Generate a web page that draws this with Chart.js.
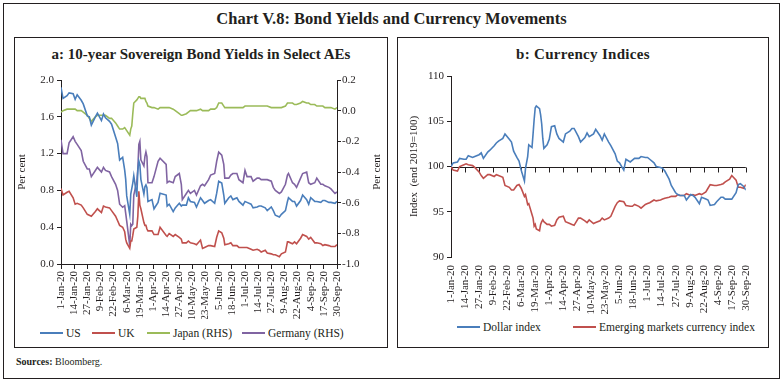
<!DOCTYPE html>
<html><head><meta charset="utf-8">
<script src="https://cdn.jsdelivr.net/npm/chart.js@4.4.1/dist/chart.umd.min.js"></script>
<style>
html,body{margin:0;padding:0;background:#fff;}
#frame{position:relative;width:783px;height:383px;font-family:"Liberation Serif",serif;color:#231f20;overflow:hidden;}
#outer{position:absolute;left:3px;top:3px;width:777px;height:376px;border:1px solid #231f20;box-sizing:border-box;}
.main-title{position:absolute;left:0;top:10px;width:783px;text-align:center;font-weight:bold;font-size:16.5px;line-height:18px;}
.panel{position:absolute;top:37px;height:311px;border:1px solid #231f20;box-sizing:border-box;}
#pa{left:14px;width:374px;}
#pb{left:397px;width:372px;}
.ptitle{position:absolute;left:0;top:8px;width:100%;text-align:center;font-weight:bold;font-size:15px;line-height:17px;}
#pb .ptitle{letter-spacing:0.3px;}
.cw{position:absolute;}
#cwa{left:16px;top:62px;width:370px;height:257px;}
#cwb{left:399px;top:62px;width:368px;height:255px;}
#src{position:absolute;left:16px;top:356px;font-size:10px;line-height:12px;}
.legend{position:absolute;height:14px;font-size:11.5px;line-height:14px;white-space:nowrap;}
.legend .item{position:absolute;top:0;}
.legend .sw{display:inline-block;width:23px;height:2px;vertical-align:middle;margin-right:3px;position:relative;top:-1px;}
</style>
</head><body>
<div id="frame">
  <div id="outer"></div>
  <div class="main-title">Chart V.8: Bond Yields and Currency Movements</div>
  <div class="panel" id="pa"><div class="ptitle">a: 10-year Sovereign Bond Yields in Select AEs</div></div>
  <div class="panel" id="pb"><div class="ptitle">b: Currency Indices</div></div>
  <div class="cw" id="cwa"><canvas id="ca"></canvas></div>
  <div class="cw" id="cwb"><canvas id="cb"></canvas></div>
  <div class="legend" id="lga" style="left:0;top:326px;width:783px;"></div>
  <div class="legend" id="lgb" style="left:0;top:320px;width:783px;"></div>
  <div id="src"><b>Sources:</b> Bloomberg.</div>
</div>
<script>
// ---------- DATA ----------
const tickLabels = ['1-Jan-20','14-Jan-20','27-Jan-20','9-Feb-20','22-Feb-20','6-Mar-20','19-Mar-20','1-Apr-20','14-Apr-20','27-Apr-20','10-May-20','23-May-20','5-Jun-20','18-Jun-20','1-Jul-20','14-Jul-20','27-Jul-20','9-Aug-20','22-Aug-20','4-Sep-20','17-Sep-20','30-Sep-20'];

const yieldTicksLHS = [0.0, 0.4, 0.8, 1.2, 1.6, 2.0];
const yieldTicksRHS = [-1.0, -0.9, -0.8, -0.7, -0.6, -0.5, -0.4, -0.3, -0.2, -0.1, 0.0, 0.1, 0.2];
const indexTicks = [90, 95, 100, 105, 110];

const seriesNamesA = ['US', 'UK', 'Japan (RHS)', 'Germany (RHS)'];
const seriesNamesB = ['Dollar index', 'Emerging markets currency index'];

const datesA = ['1-Jan','3-Jan','7-Jan','9-Jan','13-Jan','15-Jan','17-Jan','21-Jan','23-Jan','27-Jan','29-Jan','31-Jan',
'4-Feb','6-Feb','10-Feb','12-Feb','14-Feb','18-Feb','20-Feb','24-Feb','26-Feb','28-Feb',
'2-Mar','4-Mar','5-Mar','6-Mar','9-Mar','10-Mar','11-Mar','12-Mar','13-Mar','16-Mar','17-Mar','18-Mar','19-Mar','20-Mar','23-Mar','24-Mar','25-Mar','26-Mar','27-Mar','31-Mar',
'2-Apr','6-Apr','8-Apr','14-Apr','15-Apr','17-Apr','21-Apr','23-Apr','27-Apr','29-Apr','30-Apr',
'4-May','6-May','8-May','12-May','14-May','18-May','20-May','22-May','26-May','28-May',
'1-Jun','3-Jun','5-Jun','8-Jun','10-Jun','11-Jun','15-Jun','17-Jun','19-Jun','23-Jun','25-Jun','29-Jun',
'1-Jul','3-Jul','7-Jul','9-Jul','13-Jul','15-Jul','17-Jul','21-Jul','23-Jul','27-Jul','29-Jul','31-Jul',
'4-Aug','6-Aug','10-Aug','12-Aug','13-Aug','17-Aug','19-Aug','21-Aug','25-Aug','27-Aug','31-Aug',
'2-Sep','4-Sep','8-Sep','10-Sep','14-Sep','16-Sep','18-Sep','22-Sep','24-Sep','28-Sep','30-Sep'];

const usYield = [1.92,1.80,1.83,1.86,1.85,1.79,1.84,1.78,1.74,1.61,1.60,1.51,
1.60,1.64,1.56,1.63,1.59,1.55,1.52,1.38,1.31,1.13,
1.16,1.02,0.92,0.74,0.54,0.76,0.82,0.88,0.96,0.73,1.02,1.12,1.08,0.92,0.76,0.84,0.86,0.83,0.68,0.70,
0.60,0.67,0.77,0.75,0.63,0.65,0.57,0.61,0.66,0.63,0.64,
0.64,0.72,0.68,0.67,0.62,0.72,0.69,0.66,0.69,0.70,
0.66,0.77,0.90,0.88,0.75,0.66,0.72,0.74,0.70,0.72,0.68,0.64,
0.68,0.67,0.65,0.61,0.62,0.63,0.63,0.61,0.58,0.62,0.58,0.53,
0.51,0.54,0.58,0.68,0.72,0.68,0.68,0.63,0.69,0.75,0.70,
0.65,0.72,0.68,0.68,0.67,0.69,0.69,0.67,0.67,0.66,0.68];

const ukYield = [0.82,0.75,0.78,0.79,0.72,0.65,0.66,0.64,0.61,0.54,0.53,0.52,
0.57,0.60,0.56,0.63,0.62,0.61,0.58,0.52,0.47,0.42,
0.40,0.35,0.27,0.23,0.17,0.25,0.25,0.31,0.38,0.40,0.52,0.79,0.64,0.60,0.45,0.42,0.42,0.38,0.36,0.36,
0.32,0.32,0.40,0.31,0.30,0.33,0.30,0.32,0.29,0.27,0.23,
0.23,0.25,0.23,0.22,0.21,0.26,0.17,0.18,0.20,0.20,
0.19,0.29,0.36,0.34,0.28,0.21,0.22,0.23,0.20,0.20,0.18,0.18,
0.18,0.18,0.16,0.15,0.16,0.15,0.13,0.15,0.12,0.11,0.10,0.10,
0.08,0.11,0.13,0.24,0.24,0.22,0.24,0.22,0.28,0.32,0.30,
0.27,0.29,0.23,0.23,0.22,0.20,0.21,0.20,0.19,0.19,0.21];

const japanYield = [-0.01,0.00,0.01,0.01,0.01,0.01,0.00,0.00,-0.01,-0.03,-0.05,-0.07,
-0.04,-0.03,-0.03,-0.03,-0.03,-0.05,-0.05,-0.08,-0.10,-0.12,
-0.12,-0.11,-0.12,-0.13,-0.16,-0.12,-0.10,-0.02,0.05,0.07,0.08,0.09,0.09,0.08,0.08,0.08,0.06,0.05,0.03,0.02,
0.02,0.01,0.02,0.02,0.02,0.02,0.01,0.00,-0.02,-0.03,-0.03,
-0.02,-0.01,0.00,0.00,0.00,0.01,0.00,0.00,0.00,0.01,
0.01,0.02,0.05,0.05,0.03,0.02,0.02,0.02,0.02,0.02,0.02,0.02,
0.03,0.03,0.03,0.03,0.03,0.03,0.03,0.03,0.03,0.02,0.02,0.02,
0.02,0.02,0.03,0.05,0.05,0.05,0.04,0.04,0.05,0.06,0.05,
0.05,0.04,0.04,0.03,0.03,0.03,0.02,0.02,0.02,0.01,0.02];

const germanyYield = [-0.19,-0.28,-0.28,-0.21,-0.17,-0.20,-0.22,-0.26,-0.33,-0.38,-0.38,-0.43,
-0.39,-0.37,-0.40,-0.37,-0.39,-0.40,-0.43,-0.48,-0.52,-0.61,
-0.63,-0.62,-0.67,-0.72,-0.88,-0.74,-0.75,-0.74,-0.55,-0.46,-0.38,-0.22,-0.20,-0.32,-0.36,-0.30,-0.27,-0.30,-0.47,-0.47,
-0.43,-0.33,-0.31,-0.35,-0.47,-0.46,-0.47,-0.43,-0.41,-0.48,-0.58,
-0.54,-0.52,-0.54,-0.52,-0.55,-0.49,-0.48,-0.49,-0.45,-0.42,
-0.41,-0.33,-0.27,-0.29,-0.35,-0.44,-0.44,-0.42,-0.41,-0.41,-0.45,-0.47,
-0.39,-0.43,-0.43,-0.46,-0.44,-0.44,-0.45,-0.45,-0.45,-0.46,-0.50,-0.52,
-0.54,-0.53,-0.48,-0.42,-0.41,-0.47,-0.48,-0.50,-0.44,-0.41,-0.40,
-0.47,-0.48,-0.47,-0.44,-0.48,-0.48,-0.49,-0.50,-0.51,-0.54,-0.53];

const datesB = ['1-Jan','3-Jan','7-Jan','9-Jan','13-Jan','15-Jan','17-Jan','21-Jan','23-Jan','27-Jan','29-Jan','31-Jan',
'4-Feb','6-Feb','10-Feb','12-Feb','14-Feb','18-Feb','20-Feb','24-Feb','26-Feb','28-Feb',
'2-Mar','4-Mar','6-Mar','9-Mar','10-Mar','12-Mar','13-Mar','16-Mar','17-Mar','18-Mar','19-Mar','20-Mar','23-Mar','24-Mar','25-Mar','26-Mar','27-Mar','30-Mar',
'1-Apr','3-Apr','6-Apr','8-Apr','10-Apr','14-Apr','16-Apr','20-Apr','22-Apr','24-Apr','28-Apr','30-Apr',
'4-May','6-May','8-May','12-May','14-May','18-May','20-May','22-May','26-May','28-May',
'1-Jun','3-Jun','5-Jun','9-Jun','11-Jun','15-Jun','17-Jun','19-Jun','23-Jun','25-Jun','29-Jun',
'1-Jul','3-Jul','7-Jul','9-Jul','13-Jul','15-Jul','17-Jul','21-Jul','23-Jul','27-Jul','29-Jul','31-Jul',
'4-Aug','6-Aug','10-Aug','12-Aug','14-Aug','18-Aug','20-Aug','24-Aug','26-Aug','28-Aug',
'1-Sep','3-Sep','7-Sep','9-Sep','11-Sep','15-Sep','17-Sep','21-Sep','23-Sep','25-Sep','28-Sep','30-Sep'];

const dollarIndex = [100.0,100.4,100.5,100.9,100.8,100.8,101.2,101.0,101.1,101.3,101.5,100.9,
101.6,101.8,102.3,102.6,102.8,103.1,103.6,103.0,102.7,101.7,
101.0,100.6,99.6,98.4,99.8,101.1,102.4,102.1,103.6,105.2,106.5,106.7,106.4,105.7,104.7,103.1,102.0,102.4,
103.0,104.4,104.5,103.6,103.1,102.7,103.6,103.9,104.2,104.2,103.3,102.7,
103.2,103.7,103.3,103.6,104.1,103.4,102.9,103.6,102.7,102.3,
101.4,100.6,100.4,99.6,100.8,100.5,100.7,100.9,100.9,101.1,101.0,
101.0,100.8,100.4,100.0,99.9,99.8,99.5,98.6,97.9,97.1,96.9,96.8,
96.8,96.3,96.9,96.8,96.6,95.9,96.6,96.4,96.3,95.7,
95.8,96.1,96.6,96.6,96.4,96.4,96.4,97.1,98.0,98.1,97.8,97.4];

const emCurrencyIndex = [100.0,99.6,99.5,100.0,100.2,100.3,100.2,100.1,99.9,99.4,99.0,98.7,
99.1,99.1,98.9,99.1,99.0,98.8,97.9,97.7,97.4,97.4,
97.9,98.0,97.6,96.7,96.9,95.8,95.9,94.7,94.3,93.4,93.6,93.1,92.9,93.6,93.9,94.1,93.9,93.6,
93.6,93.4,93.5,94.1,94.4,94.5,93.9,93.7,93.6,93.5,94.3,94.3,
94.0,93.8,94.1,93.7,93.8,94.0,94.3,94.1,94.3,94.5,
95.6,96.0,96.2,96.1,95.7,95.6,95.6,95.8,95.6,95.4,95.8,
95.9,96.0,96.3,96.2,96.3,96.4,96.5,96.6,96.7,96.7,96.9,96.8,
96.8,97.0,96.8,96.9,96.8,97.0,96.9,97.2,97.6,98.0,
97.9,97.9,98.0,98.1,98.3,98.6,99.0,98.5,97.7,97.7,97.6,98.0];

// ---------- HELPERS ----------
const MONTHS = {Jan:0,Feb:1,Mar:2,Apr:3,May:4,Jun:5,Jul:6,Aug:7,Sep:8,Oct:9,Nov:10,Dec:11};
function dayOf(s){ const p = s.split('-'); return (Date.UTC(2020, MONTHS[p[1]], +p[0]) - Date.UTC(2020,0,1)) / 864e5; }
function series(dates, vals){ return dates.map((d,i)=>({x: dayOf(d), y: vals[i]})); }
const tickDays = tickLabels.map(dayOf);
const INK = '#231f20';
const FONT = {family:'"Liberation Serif", serif', size:11};
const BLUE = '#4a7ebb', RED = '#c0504d', GREEN = '#9bbb59', PURPLE = '#8064a2';

function xAxis(height, withLine){
  return {
    type:'linear', min: tickDays[0], max: tickDays[tickDays.length-1],
    afterBuildTicks: ax => { ax.ticks = tickDays.map(v => ({value:v})); },
    ticks:{autoSkip:false, maxRotation:90, minRotation:90, color:INK, font:FONT, padding: withLine ? 2 : 8,
      callback:(v,i)=>tickLabels[i]},
    grid:{display: withLine, drawOnChartArea:false, drawTicks: withLine, tickLength:5, color:INK, lineWidth:1},
    border:{display: withLine, color:INK, width:1},
    afterFit: s => { s.height = height; }
  };
}

// rotated (bottom-to-top) title on the right-hand axis
const rightTitle = {
  id:'rightTitle',
  afterDraw(chart, args, opts){
    if(!opts.text) return;
    const s = chart.scales[opts.axis];
    const ctx = chart.ctx;
    ctx.save();
    ctx.fillStyle = INK;
    ctx.font = '11px "Liberation Serif", serif';
    ctx.translate(s.right - opts.offset, (chart.chartArea.top + chart.chartArea.bottom)/2);
    ctx.rotate(-Math.PI/2);
    ctx.textAlign = 'center'; ctx.textBaseline = 'middle';
    ctx.fillText(opts.text, 0, 0);
    ctx.restore();
  }
};

// horizontal category-axis line crossing the value axis at a given value, with downward tick marks
const crossAxis = {
  id:'crossAxis',
  beforeDatasetsDraw(chart, args, opts){
    if(opts.value === undefined) return;
    const y = Math.round(chart.scales.y.getPixelForValue(opts.value)) + 0.5;
    const x = chart.scales.x;
    const ctx = chart.ctx;
    ctx.save();
    ctx.strokeStyle = INK; ctx.lineWidth = 1;
    ctx.beginPath();
    ctx.moveTo(chart.chartArea.left, y); ctx.lineTo(chart.chartArea.right, y);
    tickDays.forEach(v => { const px = Math.round(x.getPixelForValue(v)) + 0.5; ctx.moveTo(px, y); ctx.lineTo(px, y + 5); });
    ctx.stroke();
    ctx.restore();
  }
};

Chart.register(rightTitle, crossAxis);

const lineDS = (label, dates, vals, color, axis) => ({label, data: series(dates, vals), borderColor:color, backgroundColor:color, yAxisID:axis,
  borderWidth:1.6, pointRadius:0, tension:0, fill:false});

// HTML legend built from the chart's own datasets
function buildLegend(chart, el, positions){
  chart.data.datasets.forEach((ds, i) => {
    const it = document.createElement('span');
    it.className = 'item';
    it.style.left = positions[i] + 'px';
    const sw = document.createElement('span'); sw.className = 'sw'; sw.style.background = ds.borderColor;
    it.appendChild(sw);
    it.appendChild(document.createTextNode(ds.label));
    el.appendChild(it);
  });
}

// ---------- PANEL A ----------
const chartA = new Chart(document.getElementById('ca'), {
  type:'line',
  data:{datasets:[
    lineDS(seriesNamesA[0], datesA, usYield, BLUE, 'y'),
    lineDS(seriesNamesA[1], datesA, ukYield, RED, 'y'),
    lineDS(seriesNamesA[2], datesA, japanYield, GREEN, 'y1'),
    lineDS(seriesNamesA[3], datesA, germanyYield, PURPLE, 'y1')
  ]},
  options:{
    animation:false, responsive:true, maintainAspectRatio:false,
    layout:{padding:{top:18, left:0, right:0, bottom:0}},
    plugins:{
      legend:{display:false},
      tooltip:{enabled:false},
      rightTitle:{axis:'y1', text:'Per cent', offset:9},
      crossAxis:{}
    },
    scales:{
      x: xAxis(55, true),
      y:{position:'left', min:0, max:2,
        afterBuildTicks: ax => { ax.ticks = yieldTicksLHS.map(v=>({value:v})); },
        ticks:{color:INK, font:FONT, padding:3, callback:v=>v.toFixed(1)},
        title:{display:true, text:'Per cent', color:INK, font:FONT, padding:{top:0,bottom:0}},
        grid:{drawOnChartArea:false, tickLength:4, color:INK},
        border:{color:INK},
        afterFit: s => { s.width = 45; }},
      y1:{position:'right', min:-1, max:0.2,
        afterBuildTicks: ax => { ax.ticks = yieldTicksRHS.map(v=>({value:v})); },
        ticks:{color:INK, font:FONT, padding:1, callback:v=>(Math.abs(v)<1e-9?0:v).toFixed(1)},
        grid:{drawOnChartArea:false, tickLength:4, color:INK},
        border:{color:INK},
        afterFit: s => { s.width = 49; }}
    }
  }
});
buildLegend(chartA, document.getElementById('lga'), [40, 92, 147, 242]);

// ---------- PANEL B ----------
const chartB = new Chart(document.getElementById('cb'), {
  type:'line',
  data:{datasets:[
    lineDS(seriesNamesB[0], datesB, dollarIndex, BLUE, 'y'),
    lineDS(seriesNamesB[1], datesB, emCurrencyIndex, RED, 'y')
  ]},
  options:{
    animation:false, responsive:true, maintainAspectRatio:false,
    layout:{padding:{top:14, left:0, right:14, bottom:0}},
    plugins:{
      legend:{display:false},
      tooltip:{enabled:false},
      crossAxis:{value:100}
    },
    scales:{
      x: xAxis(60, false),
      y:{position:'left', min:90, max:110,
        afterBuildTicks: ax => { ax.ticks = indexTicks.map(v=>({value:v})); },
        ticks:{color:INK, font:FONT, padding:3},
        title:{display:true, text:'Index  (end 2019=100)', color:INK, font:FONT, padding:{top:9,bottom:0}},
        grid:{drawOnChartArea:false, tickLength:4, color:INK},
        border:{color:INK},
        afterFit: s => { s.width = 52; }}
    }
  }
});
buildLegend(chartB, document.getElementById('lgb'), [457, 573]);
</script>
</body></html>
